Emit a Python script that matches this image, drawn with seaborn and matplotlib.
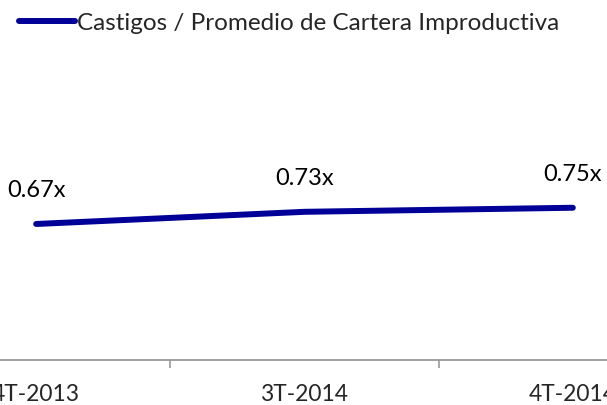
import matplotlib
matplotlib.use("Agg")
import matplotlib.pyplot as plt
import seaborn as sns
import pandas as pd

# data
periods = ["4T-2013", "3T-2014", "4T-2014"]
ratios = [0.67, 0.73, 0.75]
labels = ["0.67x", "0.73x", "0.75x"]
series_name = "Castigos / Promedio de Cartera Improductiva"

df = pd.DataFrame({"periodo": periods, "ratio": ratios})

sns.set_style("white")
plt.rcParams["font.family"] = ["Lato", "DejaVu Sans"]

fig = plt.figure(figsize=(6.07, 4.05), dpi=100)
# category axis extends past both figure edges, like the original crop
ax = fig.add_axes([-98 / 607, 1 - 360 / 405, 805 / 607, 300 / 405])

sns.lineplot(data=df, x="periodo", y="ratio", ax=ax, color="#000099",
             linewidth=4.3, solid_capstyle="round", label=series_name,
             sort=False)

for i, (v, t) in enumerate(zip(ratios, labels)):
    ax.annotate(t, (i, v), xytext=(0, 24), textcoords="offset points",
                ha="center", va="center", fontsize=17, color="black")

ax.set_xlim(-0.5, 2.5)
ax.set_ylim(0, 300 / 203)
ax.set_xlabel("")
ax.set_ylabel("")
ax.set_yticks([])

# ticks sit between categories, labels at categories
ax.set_xticks(range(len(periods)))
ax.set_xticklabels(periods, fontsize=16.4)
ax.tick_params(axis="x", which="major", length=0, pad=17)
ax.set_xticks([-0.5, 0.5, 1.5, 2.5], minor=True)
ax.tick_params(axis="x", which="minor", bottom=True, length=6, width=1.2,
               color="#999999", direction="out")

for side in ["top", "right", "left"]:
    ax.spines[side].set_visible(False)
ax.spines["bottom"].set_color("#999999")
ax.spines["bottom"].set_linewidth(1.3)

leg = ax.legend(loc="center left", bbox_to_anchor=(19 / 607, 1 - 23 / 405),
                bbox_transform=fig.transFigure, frameon=False, fontsize=17.5,
                handlelength=2.3, handletextpad=0.1, borderpad=0,
                borderaxespad=0)

fig.savefig("out.png", dpi=100)
